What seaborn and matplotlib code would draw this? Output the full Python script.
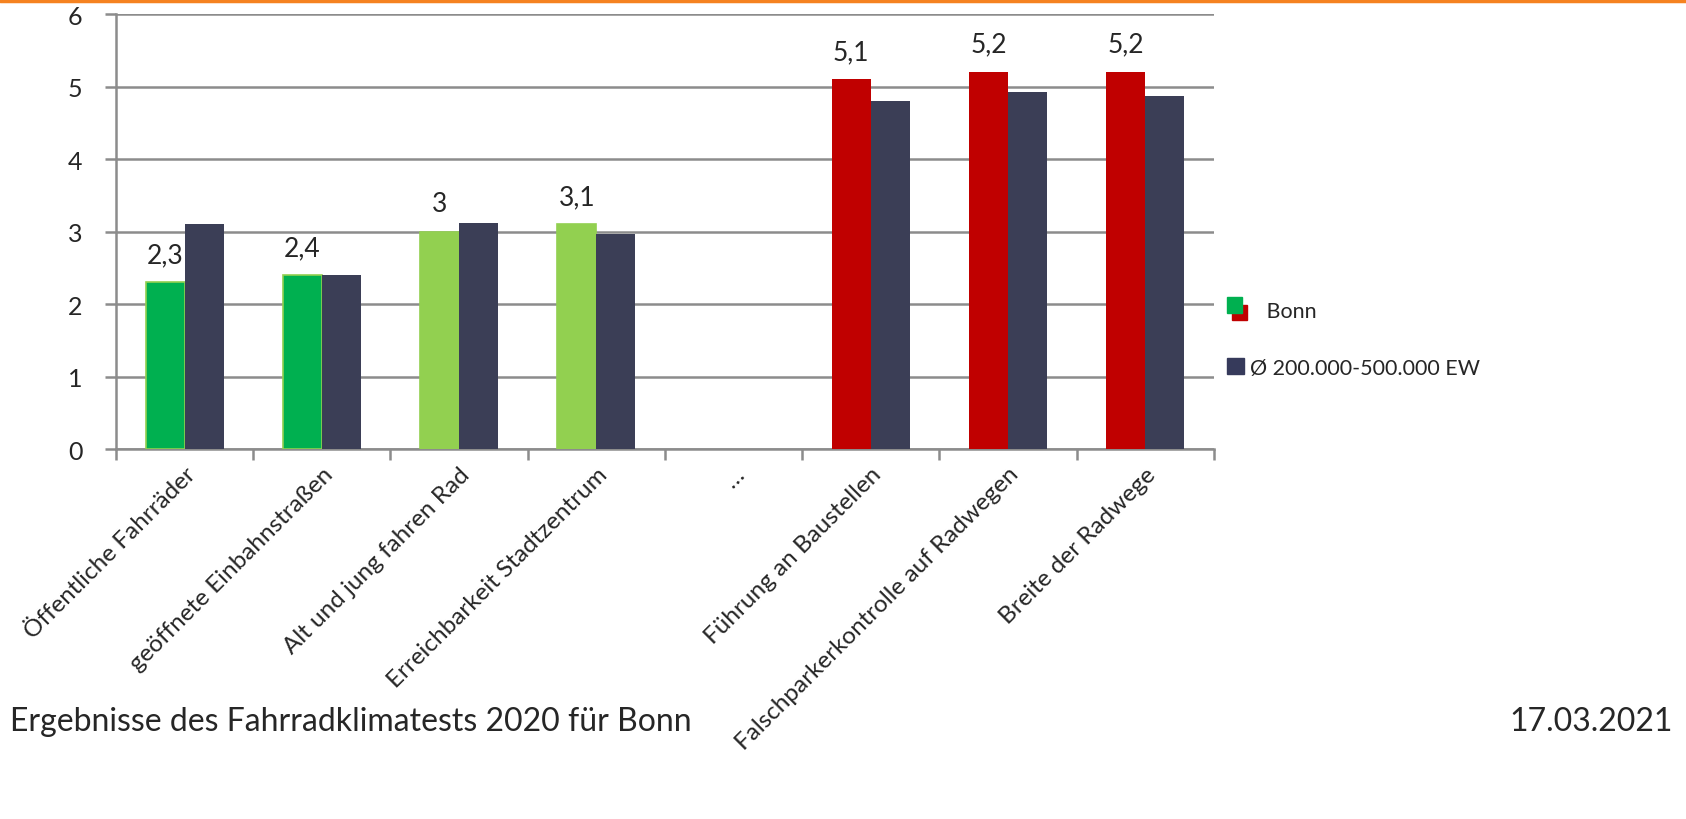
import numpy as np
import pandas as pd
import matplotlib
matplotlib.use('Agg')
import matplotlib.pyplot as plt
import matplotlib.patches as mpatches
import seaborn as sns

sns.set_theme(style='white')
plt.rcParams['font.family'] = ['Lato', 'DejaVu Sans']

categories = ['Öffentliche Fahrräder', 'geöffnete Einbahnstraßen', 'Alt und jung fahren Rad',
              'Erreichbarkeit Stadtzentrum', '…', 'Führung an Baustellen',
              'Falschparkerkontrolle auf Radwegen', 'Breite der Radwege']
bonn = [2.3, 2.4, 3.0, 3.1, np.nan, 5.1, 5.2, 5.2]
avg = [3.11, 2.4, 3.12, 2.97, np.nan, 4.8, 4.92, 4.87]
bonn_labels = ['2,3', '2,4', '3', '3,1', '', '5,1', '5,2', '5,2']
bonn_colors = ['#00B050', '#00B050', '#92D050', '#92D050', '#FFFFFF', '#C00000', '#C00000', '#C00000']
avg_color = '#363A5B'
series = ['Bonn', 'Ø 200.000-500.000 EW']

df = pd.DataFrame({
    'cat': categories * 2,
    'val': bonn + avg,
    'series': [series[0]] * len(categories) + [series[1]] * len(categories),
})


# legend key for Bonn: red square with green square overlapping at top-left
class TwoSquares:
    def legend_artist(self, legend, orig_handle, fontsize, handlebox):
        x0, y0 = handlebox.xdescent, handlebox.ydescent
        w, h = handlebox.width, handlebox.height
        s = h * 0.95
        red = mpatches.Rectangle((x0 + w * 0.3, y0 - h * 0.25), s, s, color='#C00000',
                                 transform=handlebox.get_transform())
        green = mpatches.Rectangle((x0, y0 + h * 0.2), s, s, color='#00B050',
                                   transform=handlebox.get_transform())
        handlebox.add_artist(red)
        handlebox.add_artist(green)
        return green


fig = plt.figure(figsize=(16.86, 8.2), dpi=100)
ax = fig.add_axes([0.0688, 0.451, 0.6512, 0.5307])

sns.barplot(data=df, x='cat', y='val', hue='series', order=categories, hue_order=series,
            palette=['#00B050', avg_color], width=0.57, ax=ax, legend=False, zorder=3)

# recolour Bonn bars per category and add their labels
for bar in ax.containers[0]:
    if bar is None:
        continue
    i = int(round(bar.get_x() + bar.get_width()))
    c = bonn_colors[i]
    bar.set_facecolor(c)
    if c in ('#00B050', '#92D050'):
        bar.set_edgecolor('#92D050')
        bar.set_linewidth(1.2)
    else:
        bar.set_edgecolor('none')
    ax.annotate(bonn_labels[i], (bar.get_x() + bar.get_width() / 2, bar.get_height()),
                xytext=(0, 11), textcoords='offset points', ha='center', va='bottom', fontsize=19)
for bar in ax.containers[1]:
    if bar is not None:
        bar.set_edgecolor('none')

ax.set_ylim(0, 6)
ax.set_xlim(-0.5, len(categories) - 0.5)
ax.set_yticks(range(0, 7))
ax.yaxis.grid(True, color='#8C8C8C', linewidth=1.8, zorder=0)
ax.set_axisbelow(True)
for s in ['top', 'right']:
    ax.spines[s].set_visible(False)
for s in ['left', 'bottom']:
    ax.spines[s].set_color('#8C8C8C')
    ax.spines[s].set_linewidth(1.8)
ax.tick_params(axis='y', length=8, width=1.8, color='#8C8C8C', labelsize=18, pad=16, left=True)
ax.set_xticks(np.arange(-0.5, len(categories)), minor=True)
ax.tick_params(axis='x', which='minor', length=8, width=1.8, color='#8C8C8C', bottom=True)
ax.tick_params(axis='x', which='major', length=0, labelsize=17.5, pad=10)
ax.set_xticks(range(len(categories)))
ax.set_xticklabels(categories, rotation=45, ha='right', rotation_mode='anchor')
ax.set_xlabel('')
ax.set_ylabel('')

# legend
a = mpatches.Patch(color=avg_color)
fig.legend(handles=['bonn', a], labels=[' ' * 3 + series[0], series[1]],
           handler_map={str: TwoSquares()},
           loc='center left', bbox_to_anchor=(0.716, 0.585), frameon=False,
           fontsize=15.5, handlelength=0.8, handleheight=0.8, handletextpad=0.3, labelspacing=1.7)

fig.add_artist(plt.Line2D([0, 1], [0.998, 0.998], color='#F58220', linewidth=2.5))
fig.text(0.006, 0.12, 'Ergebnisse des Fahrradklimatests 2020 für Bonn', fontsize=23, va='center')
fig.text(0.992, 0.12, '17.03.2021', fontsize=23, va='center', ha='right')

fig.savefig('out.png', dpi=100, facecolor='white')
